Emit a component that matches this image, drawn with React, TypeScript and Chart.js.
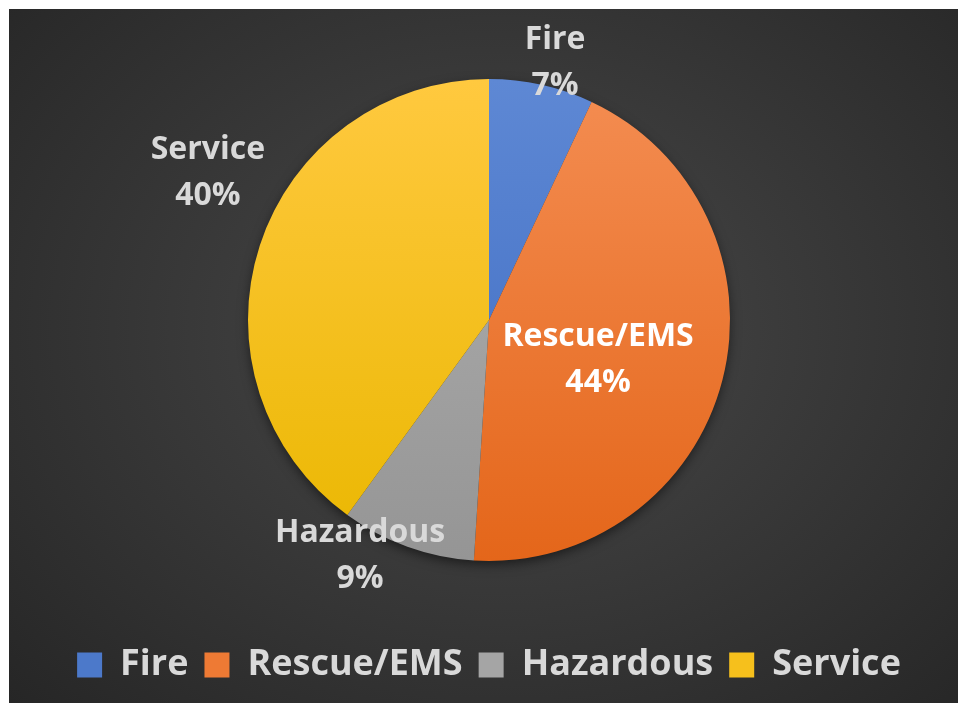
import React, { useEffect, useRef } from "react";
import { Chart, registerables } from "chart.js";

Chart.register(...registerables);

const categories = ["Fire", "Rescue/EMS", "Hazardous", "Service"];
const shares = [7, 44, 9, 40];
const percentLabels = ["7%", "44%", "9%", "40%"];

const topColors = ["#5E88D4", "#F48D52", "#B2B2B2", "#FFC93F"];
const bottomColors = ["#3C6AC1", "#E4661A", "#959595", "#EAB700"];
const legendColors = ["#4C79CA", "#EE7A34", "#A5A5A5", "#F6C01C"];
const labelColors = ["#D9D9D9", "#FFFFFF", "#D9D9D9", "#D9D9D9"];

// label placement: radius factor and angular nudge (degrees, clockwise)
const labelRadius = [1.103, 0.482, 1.114, 1.316];
const labelNudge = [1.8, 5.75, 8.9, 9.6];

const PIE_RADIUS = 241;
const FONT = "'Open Sans', 'DejaVu Sans', sans-serif";

const shadowPlugin = {
  id: "pieShadow",
  beforeDatasetsDraw(chart: any) {
    const meta = chart.getDatasetMeta(0);
    const arc = meta.data[0];
    if (!arc) return;
    const { x, y, outerRadius } = arc.getProps(["x", "y", "outerRadius"], true);
    const ctx = chart.ctx;
    ctx.save();
    ctx.shadowColor = "rgba(0,0,0,0.55)";
    ctx.shadowBlur = 12;
    ctx.shadowOffsetY = 4;
    ctx.beginPath();
    ctx.arc(x, y, outerRadius - 1, 0, Math.PI * 2);
    ctx.fillStyle = "#333";
    ctx.fill();
    ctx.restore();
  },
};

const labelPlugin = {
  id: "sliceLabels",
  afterDatasetsDraw(chart: any) {
    const meta = chart.getDatasetMeta(0);
    const ctx = chart.ctx;
    meta.data.forEach((arc: any, i: number) => {
      const { x, y, startAngle, endAngle, outerRadius } = arc.getProps(
        ["x", "y", "startAngle", "endAngle", "outerRadius"],
        true
      );
      const mid = (startAngle + endAngle) / 2 + (labelNudge[i] * Math.PI) / 180;
      const r = outerRadius * labelRadius[i];
      const cx = x + Math.cos(mid) * r;
      const cy = y + Math.sin(mid) * r;
      ctx.save();
      ctx.font = `bold 32px ${FONT}`;
      ctx.fillStyle = labelColors[i];
      ctx.textAlign = "center";
      ctx.textBaseline = "middle";
      ctx.fillText(categories[i], cx, cy - 23);
      ctx.fillText(percentLabels[i], cx, cy + 23);
      ctx.restore();
    });
  },
};

export default function App() {
  const canvasRef = useRef<HTMLCanvasElement | null>(null);

  useEffect(() => {
    if (!canvasRef.current) return;
    const chart = new Chart(canvasRef.current, {
      type: "pie",
      data: {
        labels: categories,
        datasets: [
          {
            data: shares,
            borderWidth: 0,
            backgroundColor: (c: any) => {
              const ch = c.chart;
              const area = ch.chartArea;
              if (!area) return legendColors[c.dataIndex];
              const cy = (area.top + area.bottom) / 2;
              const g = ch.ctx.createLinearGradient(0, cy - PIE_RADIUS, 0, cy + PIE_RADIUS);
              g.addColorStop(0, topColors[c.dataIndex]);
              g.addColorStop(1, bottomColors[c.dataIndex]);
              return g;
            },
          },
        ],
      },
      options: {
        animation: false,
        responsive: true,
        maintainAspectRatio: false,
        radius: PIE_RADIUS,
        layout: { padding: { left: 11, right: 0, top: 0, bottom: 10 } },
        plugins: {
          tooltip: { enabled: false },
          legend: {
            position: "bottom",
            labels: {
              boxWidth: 25,
              boxHeight: 25,
              padding: 16,
              color: "#D9D9D9",
              font: { family: FONT, size: 36, weight: "bold" },
              generateLabels: () =>
                categories.map((t, i) => ({
                  text: t,
                  fillStyle: legendColors[i],
                  strokeStyle: legendColors[i],
                  lineWidth: 0,
                  hidden: false,
                  index: i,
                  fontColor: "#D9D9D9",
                })),
            },
          },
        },
      } as any,
      plugins: [shadowPlugin, labelPlugin],
    });
    return () => chart.destroy();
  }, []);

  return (
    <div
      style={{
        position: "absolute",
        left: 9,
        top: 9,
        width: 949,
        height: 694,
        background:
          "radial-gradient(ellipse 72% 78% at 52% 46%, #4a4a4a 0%, #3b3b3b 40%, #262626 100%)",
      }}
    >
      <canvas ref={canvasRef} />
    </div>
  );
}
